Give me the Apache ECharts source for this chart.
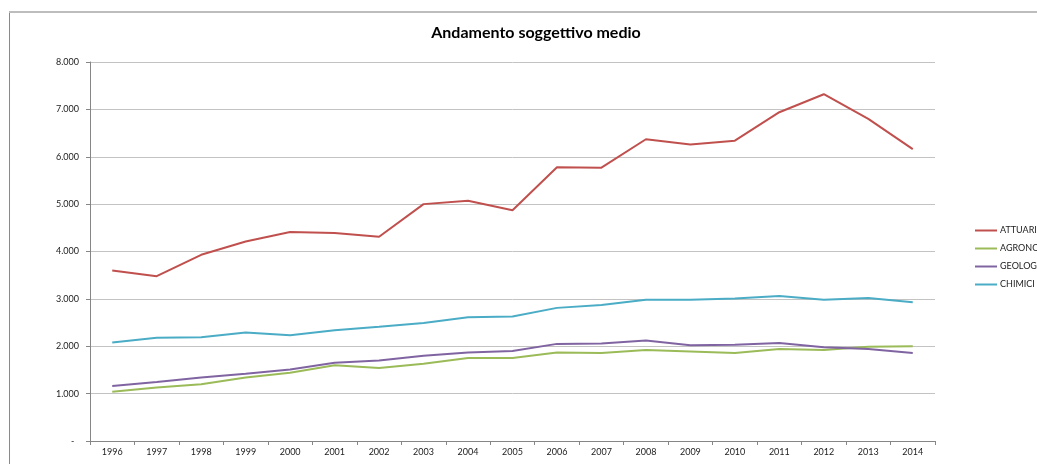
<!DOCTYPE html>
<html>
<head>
<meta charset="utf-8">
<script src="https://cdn.jsdelivr.net/npm/echarts@6/dist/echarts.min.js"></script>
<style>html,body{margin:0;padding:0;background:#fff}#c{width:1037px;height:464px}</style>
</head>
<body>
<div id="c"></div>
<script>
var years = ['1996','1997','1998','1999','2000','2001','2002','2003','2004','2005','2006','2007','2008','2009','2010','2011','2012','2013','2014'];
var attuari  = [3600,3480,3930,4210,4410,4390,4310,5000,5070,4870,5780,5770,6370,6260,6340,6940,7320,6800,6160];
var agronomi = [1040,1130,1200,1340,1440,1600,1540,1630,1750,1750,1870,1860,1920,1890,1860,1940,1920,1990,2000];
var geologi  = [1160,1245,1340,1420,1510,1650,1700,1800,1870,1900,2050,2060,2120,2020,2030,2070,1980,1940,1860];
var chimici  = [2080,2180,2190,2290,2230,2340,2410,2490,2610,2630,2810,2870,2980,2980,3010,3060,2980,3020,2930];
var yTicks = [0,1000,2000,3000,4000,5000,6000,7000,8000];

var chart = echarts.init(document.getElementById('c'));
function fmt(v){ return v === 0 ? '-  ' : String(v).replace(/\B(?=(\d{3})+(?!\d))/g, '.'); }
function mk(name, data, color){
  return {name:name, type:'line', data:data, symbol:'none', smooth:false,
    lineStyle:{color:color, width:2}, itemStyle:{color:color}};
}
chart.setOption({
  animation:false,
  title:{text:'Andamento soggettivo medio', left:531, textAlign:'center', top:20,
    textStyle:{fontFamily:'Lato', fontWeight:'bold', fontSize:16, color:'#000'}},
  graphic:[
    {type:'line', shape:{x1:9.5,y1:11,x2:9.5,y2:464}, style:{stroke:'#8a8a8a', lineWidth:1}},
    {type:'line', shape:{x1:9,y1:12,x2:1037,y2:12}, style:{stroke:'#bdbdbd', lineWidth:2}}
  ],
  legend:{orient:'vertical', left:970, top:220, icon:'rect', itemWidth:22, itemHeight:2, itemGap:7,
    textStyle:{fontFamily:'Lato', fontSize:9, color:'#222', lineHeight:11, padding:[0,0,0,-2]},
    data:['ATTUARI','AGRONOMI','GEOLOGI','CHIMICI']},
  grid:{left:90, right:102, top:62, bottom:23, containLabel:false},
  xAxis:{type:'category', data:years, boundaryGap:true,
    axisLine:{lineStyle:{color:'#868686'}},
    axisTick:{show:true, inside:false, length:4, alignWithLabel:false, lineStyle:{color:'#868686'}},
    axisLabel:{fontFamily:'Lato', fontSize:9, color:'#222', margin:7, interval:0},
    splitLine:{show:false}},
  yAxis:{type:'value', min:0, max:8000, interval:1000,
    axisLine:{show:true, lineStyle:{color:'#868686'}},
    axisTick:{show:true, length:4, lineStyle:{color:'#868686'}},
    axisLabel:{fontFamily:'Lato', fontSize:9, color:'#222', margin:11, formatter:fmt},
    splitLine:{lineStyle:{color:'#c3c3c3', width:1}}},
  series:[
    mk('ATTUARI', attuari, '#C0504D'),
    mk('AGRONOMI', agronomi, '#9BBB59'),
    mk('GEOLOGI', geologi, '#8064A2'),
    mk('CHIMICI', chimici, '#4BACC6')
  ]
});
</script>
</body>
</html>
